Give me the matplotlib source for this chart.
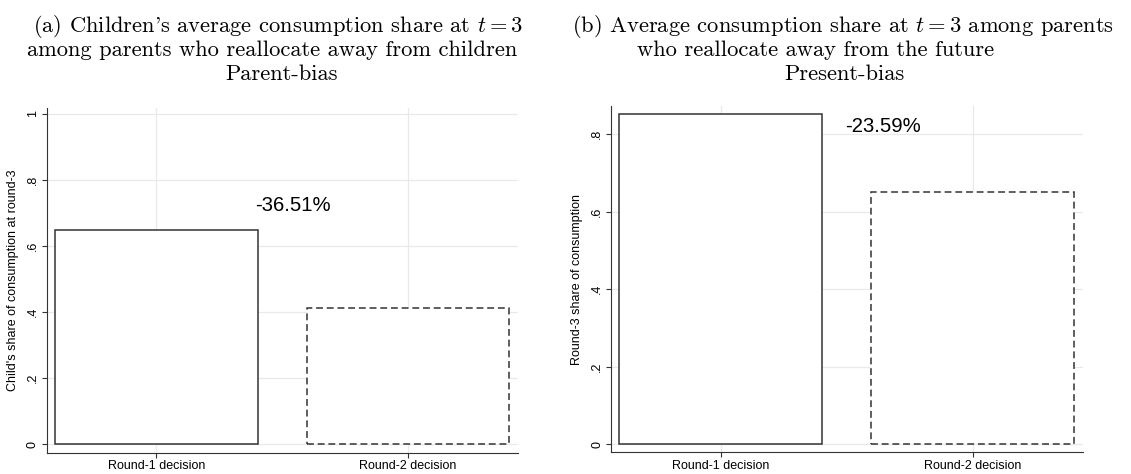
import matplotlib
matplotlib.use("Agg")
import matplotlib.pyplot as plt

plt.rcParams['font.family'] = ['Liberation Sans', 'DejaVu Sans']
plt.rcParams['mathtext.fontset'] = 'cm'

decisions = ["Round-1 decision", "Round-2 decision"]

# average round-3 shares, before and after reallocation
parent_share = [0.6475, 0.4111]
present_share = [0.852, 0.651]

parent_yticks = [0, 0.2, 0.4, 0.6, 0.8, 1.0]
present_yticks = [0, 0.2, 0.4, 0.6, 0.8]
ytick_labels = ["0", ".2", ".4", ".6", ".8", "1"]

GRID = "#e9e9e9"
INK = "#333333"


def stata_bars(ax, vals, yticks, ylabel, ylim, note_xy):
    xs = range(len(vals))
    ax.set_axisbelow(True)
    ax.grid(True, color=GRID, lw=0.9)
    styles = ["solid", (0, (4.5, 2.5))]
    for x, v, ls in zip(xs, vals, styles):
        ax.bar(x, v, width=0.806, facecolor="white", edgecolor=INK,
               linewidth=1.1, linestyle=ls)
    ax.set_xlim(-0.435, 1.437)
    ax.set_ylim(*ylim)
    ax.set_xticks(list(xs))
    ax.set_xticklabels(decisions, fontsize=9)
    ax.set_yticks(yticks)
    ax.set_yticklabels(ytick_labels[:len(yticks)], fontsize=9,
                       rotation=90, va="center")
    ax.tick_params(length=3.6, width=0.8, color=INK, pad=2)
    ax.set_ylabel(ylabel, fontsize=9, labelpad=6)
    for s in ["top", "right"]:
        ax.spines[s].set_visible(False)
    for s in ["left", "bottom"]:
        ax.spines[s].set_color(INK)
        ax.spines[s].set_linewidth(0.8)
    change = (vals[1] / vals[0] - 1) * 100
    ax.text(note_xy[0], note_xy[1], f"{change:.2f}%", fontsize=14.6,
            ha="left", va="center")


fig = plt.figure(figsize=(11.31, 4.74), dpi=100)
ax1 = fig.add_axes([0.0413, 0.0449, 0.4167, 0.7272])
ax2 = fig.add_axes([0.5402, 0.0458, 0.4173, 0.7306])

stata_bars(ax1, parent_share, parent_yticks,
           "Child's share of consumption at round-3",
           (-0.026, 1.018), (0.393, 0.724))
stata_bars(ax2, present_share, present_yticks,
           "Round-3 share of consumption",
           (-0.0214, 0.873), (0.494, 0.820))

W, H = 1131, 474
serif = dict(family="cmr10", fontsize=16.2, va="baseline")
fig.text(32.7 / W, 1 - 32 / H,
         "(a) Children's average consumption share at $t=3$", ha="left", **serif)
fig.text(26.7 / W, 1 - 56 / H,
         "among parents who reallocate away from children", ha="left", **serif)
fig.text(282 / W, 1 - 80 / H, "Parent-bias", ha="center", **serif)

fig.text(572.3 / W, 1 - 32 / H,
         "(b) Average consumption share at $t=3$ among parents", ha="left", **serif)
fig.text(636.7 / W, 1 - 56 / H,
         "who reallocate away from the future", ha="left", **serif)
fig.text(844 / W, 1 - 80 / H, "Present-bias", ha="center", **serif)

fig.savefig("out.png", dpi=100)
